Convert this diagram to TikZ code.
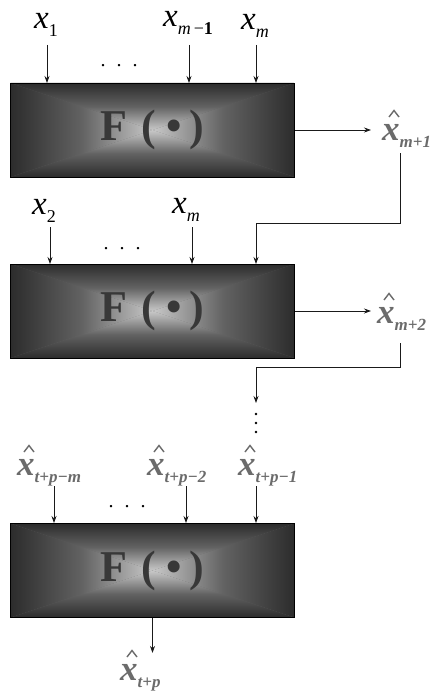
\documentclass[tikz,border=0pt]{standalone}
\usepackage{fontspec}
\setmainfont{Liberation Serif}
\usetikzlibrary{arrows.meta,calc}
\definecolor{dk}{HTML}{2C2C2C}
\definecolor{md}{HTML}{626262}
\definecolor{lt}{HTML}{C8C8C8}
\definecolor{hatgray}{HTML}{6B6B6B}
\definecolor{ftext}{HTML}{383838}
\definecolor{lncol}{HTML}{1A1A1A}
\newcommand\xlab[1]{{\fontsize{33}{33}\selectfont\itshape x}\raisebox{-8pt}{\fontsize{18}{18}\selectfont #1}}
\newcommand\hlab[1]{{\fontsize{35}{35}\selectfont\bfseries\itshape x}\raisebox{-7pt}{\fontsize{17}{17}\selectfont\bfseries\itshape #1}}
\newcommand\ftxt{\raisebox{-3pt}{F\hspace{14pt}(\hspace{10pt}•\hspace{8pt})}}
\newcommand\hatat[1]{\draw[hatc] ($(#1.base west)+(7,-23)$) -- ++(5,-6.5) -- ++(5,6.5);}
\tikzset{
  fbox/.style={draw=black, line width=0.8pt, fill=md, minimum width=284pt, minimum height=94pt,
    inner sep=0pt, text=ftext, font=\fontsize{44}{44}\selectfont\bfseries,
    path picture={
      \begin{scope}
        \clip (path picture bounding box.south west) -- (path picture bounding box.center) -- (path picture bounding box.north west) -- cycle;
        \shade[left color=dk, right color=lt, middle color=md] (path picture bounding box.south west) rectangle (path picture bounding box.north);
      \end{scope}
      \begin{scope}
        \clip (path picture bounding box.south east) -- (path picture bounding box.center) -- (path picture bounding box.north east) -- cycle;
        \shade[left color=lt, right color=dk, middle color=md] (path picture bounding box.south) rectangle (path picture bounding box.north east);
      \end{scope}
      \begin{scope}
        \clip (path picture bounding box.north west) -- (path picture bounding box.center) -- (path picture bounding box.north east) -- cycle;
        \shade[top color=dk, bottom color=lt, middle color=md] (path picture bounding box.west) rectangle (path picture bounding box.north east);
      \end{scope}
      \begin{scope}
        \clip (path picture bounding box.south west) -- (path picture bounding box.center) -- (path picture bounding box.south east) -- cycle;
        \shade[top color=lt, bottom color=dk, middle color=md] (path picture bounding box.south west) rectangle (path picture bounding box.east);
      \end{scope}
    }},
  lbl/.style={inner sep=0pt, anchor=base},
  hlbl/.style={inner sep=0pt, anchor=base west, text=hatgray},
  hatc/.style={draw=hatgray, line width=1.4pt, line join=miter},
  arr/.style={draw=lncol, line width=0.8pt, -{Stealth[length=7pt,width=5pt]}},
  hdots/.style={inner sep=0pt, anchor=base, font=\fontsize{20}{20}\selectfont},
  vdot/.style={fill=black, circle, inner sep=0pt, minimum size=2.6pt}
}
\begin{document}
\begin{tikzpicture}[x=1pt, y=-1pt]
\useasboundingbox[fill=white] (0,0) rectangle (440,698);

% boxes
\node[fbox] (b1) at (152.5,130) {\ftxt};
\node[fbox] (b2) at (152.5,311) {\ftxt};
\node[fbox] (b3) at (152.5,570.5) {\ftxt};

% input points
\coordinate (i11) at (47,83);
\coordinate (i12) at (189,83);
\coordinate (i13) at (256,83);
\coordinate (i21) at (50,264);
\coordinate (i22) at (192,264);
\coordinate (i23) at (256,264);
\coordinate (i31) at (54,523);
\coordinate (i32) at (186,523);
\coordinate (i33) at (256,523);

% box 1 labels
\node[lbl] (t11) at (46,29) {\xlab{1}};
\node[lbl] (t12) at (188,27) {\xlab{\textit{m}\,−\textbf{1}}};
\node[lbl] (t13) at (255,30) {\xlab{\textit{m}}};
\node[hdots] (d1) at (119,67) {.\hspace{11pt}.\hspace{11pt}.};
\draw[arr] ($(t11.base -| i11)+(0,16)$) -- (i11);
\draw[arr] ($(t12.base -| i12)+(0,18)$) -- (i12);
\draw[arr] ($(t13.base -| i13)+(0,15)$) -- (i13);

% box 1 output
\node[hlbl] (o1) at (382,140) {\hlab{m+1}};
\hatat{o1}
\draw[arr] (b1.east) -- ($(o1.west |- b1.east)+(-11,0)$);
\draw[arr] ($(o1.base west)+(18,13)$) -- ++(0,70) -| (i23);

% box 2 labels
\node[lbl] (t21) at (44,214) {\xlab{2}};
\node[lbl] (t22) at (186,213) {\xlab{\textit{m}}};
\node[hdots] (d2) at (122,249) {.\hspace{11pt}.\hspace{11pt}.};
\draw[arr] ($(t21.base -| i21)+(0,13)$) -- (i21);
\draw[arr] ($(t22.base -| i22)+(0,14)$) -- (i22);

% box 2 output
\node[hlbl] (o2) at (377,323) {\hlab{m+2}};
\hatat{o2}
\draw[arr] (b2.east) -- ($(o2.west |- b2.east)+(-6,0)$);
\coordinate (dtop) at (256,403);
\draw[arr] ($(o2.base west)+(23,20)$) -- ++(0,24) -| (dtop);
\node[vdot] (v1) at (256,414) {};
\node[vdot] (v2) at (256,423) {};
\node[vdot] (v3) at (256,432) {};

% box 3 labels
\node[hlbl] (t31) at (17,475) {\hlab{t+p−m}};
\node[hlbl] (t32) at (147,475) {\hlab{t+p−2}};
\node[hlbl] (t33) at (238,475) {\hlab{t+p−1}};
\hatat{t31}
\hatat{t32}
\hatat{t33}
\node[hdots] (d3) at (127,507) {.\hspace{11pt}.\hspace{11pt}.};
\draw[arr] ($(t31.base west -| i31)+(0,11)$) -- (i31);
\draw[arr] ($(t32.base west -| i32)+(0,11)$) -- (i32);
\draw[arr] ($(t33.base west -| i33)+(0,11)$) -- (i33);

% box 3 output
\node[hlbl] (o3) at (120,680) {\hlab{t+p}};
\hatat{o3}
\draw[arr] (b3.south) -- ++(0,35);
\end{tikzpicture}
\end{document}
